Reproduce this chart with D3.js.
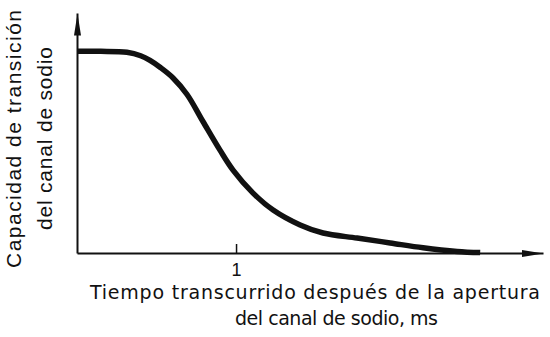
<!DOCTYPE html>
<html>
<head>
<meta charset="utf-8">
<script src="https://cdn.jsdelivr.net/npm/d3@7"></script>
<style>
  body { margin: 0; background: #fff; }
  text { font-family: "Liberation Sans", Arial, sans-serif; fill: #111; }
</style>
</head>
<body>
<div id="chart"></div>
<script>
// time after opening of the channel (ms)
const timeMs = [0, 0.15, 0.314, 0.40, 0.459, 0.522, 0.604, 0.692, 0.792, 0.899, 0.981,
  1.107, 1.233, 1.403, 1.547, 1.761, 1.969, 2.176, 2.39, 2.535];
// relative transition capacity of the sodium channel
const capacity = [1.0, 1.0, 0.995, 0.978, 0.955, 0.921, 0.868, 0.786, 0.652, 0.51, 0.411,
  0.297, 0.213, 0.139, 0.099, 0.074, 0.05, 0.026, 0.008, 0.002];
const xTicks = [1];
const xLabel = ["Tiempo transcurrido después de la apertura", "del canal de sodio, ms"];
const yLabel = ["Capacidad de transición", "del canal de sodio"];

const W = 550, H = 337;
const svg = d3.select("#chart")
  .append("svg")
  .attr("width", W)
  .attr("height", H);

const x = d3.scaleLinear().domain([0, 2.93]).range([77, 543]);
const y = d3.scaleLinear().domain([0, 1.19]).range([253, 13]);

// arrow heads for the axes
svg.append("defs").append("marker")
  .attr("id", "arrow")
  .attr("markerUnits", "userSpaceOnUse")
  .attr("markerWidth", 24)
  .attr("markerHeight", 10)
  .attr("viewBox", "0 -5 24 10")
  .attr("refX", 22)
  .attr("refY", 0)
  .attr("orient", "auto")
  .append("path")
  .attr("d", "M0,-3.5L22,0L0,3.5Z")
  .attr("fill", "#111");

// X axis
const gx = svg.append("g")
  .attr("transform", `translate(0,${y(0)})`)
  .call(d3.axisBottom(x).tickValues(xTicks).tickSizeInner(-9).tickSizeOuter(0).tickFormat(d3.format("d")));
gx.select(".domain")
  .attr("stroke", "#111")
  .attr("stroke-width", 2)
  .attr("marker-end", "url(#arrow)");
gx.selectAll(".tick line").attr("stroke", "#111").attr("stroke-width", 1.5);
gx.selectAll(".tick text")
  .attr("y", 10)
  .attr("dy", "0.71em")
  .style("font-size", "18px")
  .style("font-family", "Liberation Sans, Arial, sans-serif")
  .attr("fill", "#111");

// Y axis
const gy = svg.append("g")
  .attr("transform", `translate(${x(0)},0)`)
  .call(d3.axisLeft(y).tickValues([]).tickSizeOuter(0));
gy.select(".domain")
  .attr("stroke", "#111")
  .attr("stroke-width", 2)
  .attr("marker-end", "url(#arrow)");

// curve
const line = d3.line()
  .x((d, i) => x(timeMs[i]))
  .y(d => y(d))
  .curve(d3.curveCatmullRom.alpha(0.5));

svg.append("path")
  .datum(capacity)
  .attr("d", line)
  .attr("fill", "none")
  .attr("stroke", "#111")
  .attr("stroke-width", 5.5)
  .attr("stroke-linecap", "butt");

// axis titles
svg.append("text")
  .attr("x", 90).attr("y", 299)
  .attr("textLength", 450).attr("lengthAdjust", "spacing")
  .style("font-family", "DejaVu Sans, sans-serif")
  .style("font-size", "19px")
  .text(xLabel[0]);
svg.append("text")
  .attr("x", 235).attr("y", 325)
  .attr("textLength", 203).attr("lengthAdjust", "spacing")
  .style("font-family", "DejaVu Sans, sans-serif")
  .style("font-size", "19px")
  .text(xLabel[1]);

svg.append("text")
  .attr("transform", "translate(21,268) rotate(-90)")
  .attr("textLength", 258).attr("lengthAdjust", "spacing")
  .style("font-size", "21px")
  .text(yLabel[0]);
svg.append("text")
  .attr("transform", "translate(52,230) rotate(-90)")
  .attr("textLength", 183).attr("lengthAdjust", "spacing")
  .style("font-size", "21px")
  .text(yLabel[1]);
</script>
</body>
</html>
